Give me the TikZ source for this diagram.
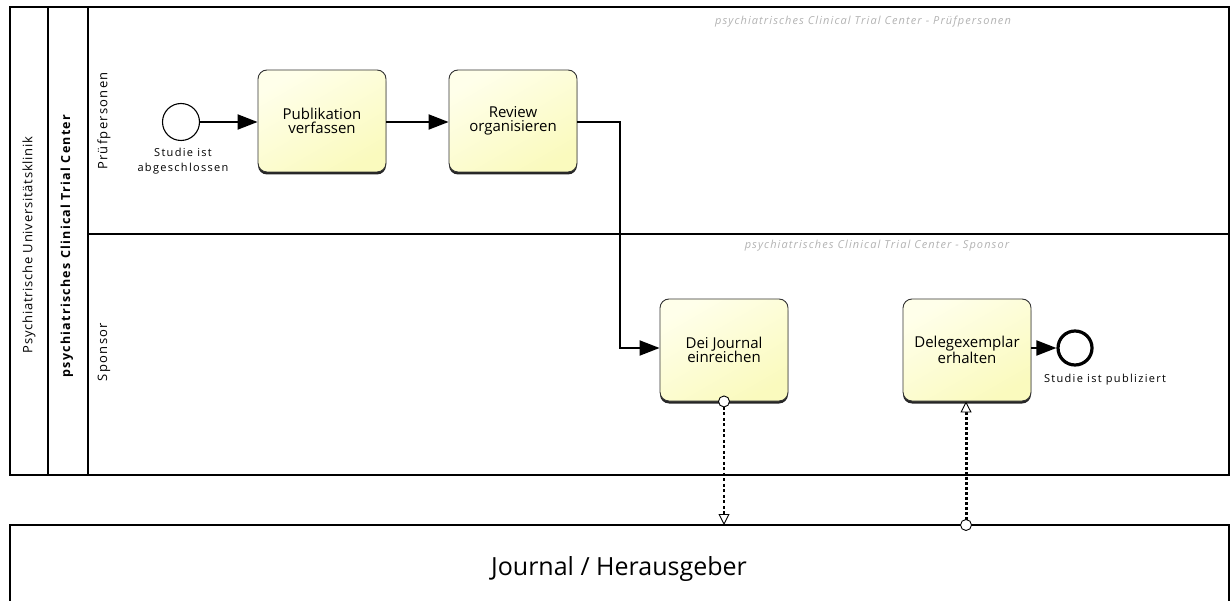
\documentclass[tikz,border=0pt]{standalone}
\usepackage{fontspec}
\setmainfont{Open Sans}
\newfontfamily\spacedA[LetterSpace=6]{Open Sans}
\newfontfamily\spacedB[LetterSpace=10]{Open Sans}
\newfontfamily\spacedC[LetterSpace=12]{Open Sans}
\usetikzlibrary{arrows.meta,calc}

\definecolor{taskfillA}{HTML}{FFFFEA}
\definecolor{taskfillB}{HTML}{FAFABE}
\definecolor{headgray}{HTML}{B2B2B2}

\tikzset{
  poolline/.style={line width=2pt, draw=black},
  laneline/.style={line width=1.6pt, draw=black},
  task/.style={rectangle, rounded corners=9pt, draw=black!80, line width=0.9pt,
    top color=taskfillA, bottom color=taskfillB, shading angle=30,
    minimum width=128pt, minimum height=102pt, align=center,
    font=\fontsize{15}{14.5}\selectfont, inner sep=2pt},
  taskshadow/.style={rectangle, rounded corners=9pt, fill=black!85,
    minimum width=128pt, minimum height=102pt},
  startev/.style={circle, draw=black, line width=1.1pt, fill=white, minimum size=37pt, inner sep=0pt},
  endev/.style={circle, draw=black, line width=3.2pt, fill=white, minimum size=34pt, inner sep=0pt},
  evlabel/.style={align=center, font=\spacedC\fontsize{11}{15.5}\selectfont, inner sep=0pt},
  seqflow/.style={line width=2pt, draw=black, -{Triangle[length=20pt,width=15pt]}},
  msgflowA/.style={line width=1.5pt, dash pattern=on 3pt off 2.5pt,
    -{Triangle[open, length=11pt, width=11pt, line width=0.9pt, fill=white]}},
  msgflowB/.style={line width=3pt, dash pattern=on 3pt off 2pt,
    -{Triangle[open, length=11pt, width=11pt, line width=0.9pt, fill=white]}},
  msgdot/.style={circle, draw=black, line width=0.9pt, fill=white, minimum size=11pt, inner sep=0pt},
  lanehead/.style={font=\spacedB\itshape\fontsize{11}{13}\selectfont, text=headgray, inner sep=0pt},
  vlabel/.style={rotate=90, font=\spacedA\fontsize{13}{15}\selectfont, inner sep=0pt},
}

\begin{document}
\begin{tikzpicture}[x=1pt, y=-1pt]
\useasboundingbox (0,0) rectangle (1230,601);

% upper pool with its two lanes
\draw[poolline] (10,7) rectangle (1229,475);
\draw[poolline] (48,7) -- (48,475);
\draw[poolline] (88,7) -- (88,475);
\draw[laneline] (88,234) -- (1229,234);

\node[vlabel] (poolname) at (29,245) {Psychiatrische Universitätsklinik};
\node[vlabel, font=\spacedB\bfseries\fontsize{12.5}{15}\selectfont] (centername) at (67,246) {psychiatrisches Clinical Trial Center};
\node[vlabel, font=\spacedB\fontsize{13}{15}\selectfont] (lane1) at (104,121) {Prüfpersonen};
\node[vlabel, font=\spacedB\fontsize{13}{15}\selectfont] (lane2) at (104,352) {Sponsor};

\node[lanehead] (head1) at (863,22) {psychiatrisches Clinical Trial Center - Prüfpersonen};
\node[lanehead] (head2) at (877,246) {psychiatrisches Clinical Trial Center - Sponsor};

% lower pool
\draw[poolline] (10,610) -- (10,525) -- (1229,525) -- (1229,610);
\node[font=\fontsize{25}{30}\selectfont] (journal) at (619,569) {Journal / Herausgeber};

% events
\node[startev] (start) at (181,122) {};
\node[evlabel] (startlbl) at (183,161) {Studie ist\\abgeschlossen};

% tasks (with a dark edge peeking out underneath)
\node[taskshadow] at (322,123.5) {};
\node[task] (t1) at (322,121) {Publikation\\verfassen};
\node[taskshadow] at (513,123.5) {};
\node[task] (t2) at (513,121) {Review\\organisieren};
\node[taskshadow] at (724,352.5) {};
\node[task] (t3) at (724,350) {Dei Journal\\einreichen};
\node[taskshadow] at (967,352.5) {};
\node[task] (t4) at (967,350) {Delegexemplar\\erhalten};

\node[endev] (finish) at (1075,348) {};
\node[evlabel] (endlbl) at (1105,380) {Studie ist publiziert};

% sequence flows
\draw[seqflow] (start) -- (t1.west |- start);
\draw[seqflow] (t1.east |- start) -- (t2.west |- start);
\draw[seqflow] (t2.east |- start) -- ++(43,0) coordinate (bend) |- (t3.west |- finish);
\draw[seqflow] (t4.east |- finish) -- (finish);

% message flows
\coordinate (jin) at (724,525);
\coordinate (jout) at (966,525);
\draw[msgflowA] (t3.south) -- (jin);
\node[msgdot] (d1) at (t3.south) {};
\draw[msgflowB] (jout) -- (jout |- t4.south);
\node[msgdot] (d2) at (jout) {};
\end{tikzpicture}
\end{document}
